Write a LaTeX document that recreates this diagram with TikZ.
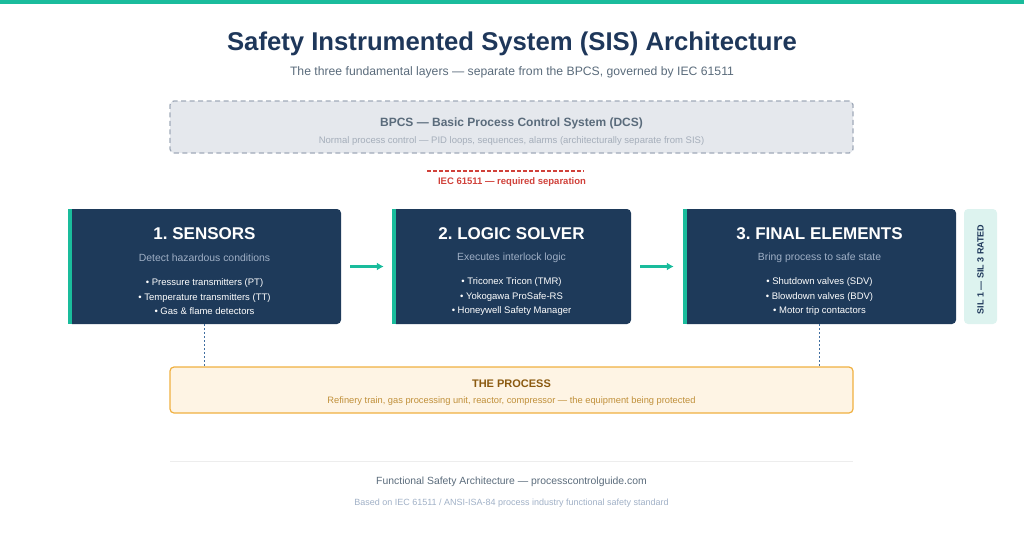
\documentclass[tikz,border=0pt]{standalone}
\usepackage{fontspec}
\setmainfont{Liberation Sans}
\usetikzlibrary{arrows.meta}
\frenchspacing
\definecolor{myTeal}{RGB}{26, 188, 156}
\definecolor{myNavy}{RGB}{30, 58, 90}
\definecolor{myTitle}{RGB}{30, 55, 90}
\definecolor{myGrey}{RGB}{90, 107, 123}
\definecolor{myLight}{RGB}{165, 174, 186}
\definecolor{myBpcs}{RGB}{229, 232, 237}
\definecolor{myBpcsLine}{RGB}{160, 170, 185}
\definecolor{myRed}{RGB}{208, 65, 58}
\definecolor{mySub}{RGB}{160, 176, 198}
\definecolor{mySil}{RGB}{221, 243, 239}
\definecolor{myProc}{RGB}{254, 244, 228}
\definecolor{myOrange}{RGB}{240, 176, 64}
\definecolor{myBrown}{RGB}{139, 90, 16}
\definecolor{myTan}{RGB}{192, 144, 58}
\definecolor{myDots}{RGB}{64, 110, 160}

\tikzset{
  layer/.style={fill=myNavy, rounded corners=4, minimum height=115, inner sep=0},
  layertitle/.style={white, font=\fontsize{17}{20}\selectfont\bfseries},
  layersub/.style={mySub, font=\fontsize{10.4}{13}\selectfont},
  bullets/.style={white, font=\fontsize{9.5}{14.5}\selectfont, align=center},
  flow/.style={myTeal, line width=2.4, -{Latex[length=7,width=8]}},
  tap/.style={myDots, line width=1.5, dash pattern=on 2 off 2},
}

\begin{document}
\begin{tikzpicture}[x=1pt, y=-1pt]
  \useasboundingbox (0,0) rectangle (1024,538);
  \fill[myTeal] (0,0) rectangle (1024,4);
  \node[myTitle, font=\fontsize{25.7}{30}\selectfont\bfseries] (title) at (512,43.5) {Safety Instrumented System (SIS) Architecture};
  \node[myGrey, font=\fontsize{12.2}{15}\selectfont] (subtitle) at (512,72.5) {The three fundamental layers — separate from the BPCS, governed by IEC 61511};

  % BPCS
  \node[fill=myBpcs, draw=myBpcsLine, line width=1.3, dash pattern=on 5 off 3.5, rounded corners=4, minimum width=683, minimum height=52] (bpcs) at (511.5,127) {};
  \node[myGrey, font=\fontsize{12}{15}\selectfont\bfseries] at (511.5,123) {BPCS — Basic Process Control System (DCS)};
  \node[myLight, font=\fontsize{9.5}{12}\selectfont] at (511.5,141) {Normal process control — PID loops, sequences, alarms (architecturally separate from SIS)};

  % separation
  \coordinate (sepL) at (427,171);
  \coordinate (sepR) at (584,171);
  \draw[myRed, line width=1.4, dash pattern=on 3.5 off 2.5] (sepL) -- (sepR);
  \node[myRed, font=\fontsize{9.5}{12}\selectfont\bfseries] (sep) at (512,182) {IEC 61511 — required separation};

  % the three layers
  \node[layer, minimum width=273] (sensors) at (204.5,266.5) {};
  \node[layer, minimum width=239] (logic) at (511.5,266.5) {};
  \node[layer, minimum width=273] (final) at (819.5,266.5) {};
  \foreach \n in {sensors, logic, final}
    \fill[myTeal] (\n.north west) rectangle ([xshift=4]\n.south west);

  \node[layertitle] at (204.5,234) {1. SENSORS};
  \node[layersub] at (204.5,258) {Detect hazardous conditions};
  \node[bullets] at (204.5,297) {• Pressure transmitters (PT)\\• Temperature transmitters (TT)\\• Gas \& flame detectors};

  \node[layertitle] at (511.5,234) {2. LOGIC SOLVER};
  \node[layersub] at (511.5,258) {Executes interlock logic};
  \node[bullets] at (511.5,297) {• Triconex Tricon (TMR)\\• Yokogawa ProSafe-RS\\• Honeywell Safety Manager};

  \node[layertitle] at (819.5,234) {3. FINAL ELEMENTS};
  \node[layersub] at (819.5,258) {Bring process to safe state};
  \node[bullets] at (819.5,297) {• Shutdown valves (SDV)\\• Blowdown valves (BDV)\\• Motor trip contactors};

  \draw[flow] ([xshift=9]sensors.east) -- ([xshift=-8]logic.west);
  \draw[flow] ([xshift=9]logic.east) -- ([xshift=-9]final.west);

  % SIL rating
  \node[fill=mySil, rounded corners=4, minimum width=33, minimum height=115, inner sep=0] (sil) at (980.5,266.5) {};
  \node[myTitle, rotate=90, font=\fontsize{9}{11}\selectfont\bfseries] at ([yshift=-3]sil.center) {SIL 1 — SIL 3 RATED};

  % process
  \node[fill=myProc, draw=myOrange, line width=1.2, rounded corners=4, minimum width=683, minimum height=46] (process) at (511.5,390) {};
  \node[myBrown, font=\fontsize{11}{13}\selectfont\bfseries] at (511.5,384) {THE PROCESS};
  \node[myTan, font=\fontsize{9.3}{11}\selectfont] at (511.5,401) {Refinery train, gas processing unit, reactor, compressor — the equipment being protected};
  \draw[tap] (sensors.south) -- (sensors.south |- process.north);
  \draw[tap] (final.south) -- (final.south |- process.north);

  % footer
  \coordinate (footL) at (170,461);
  \coordinate (footR) at (853,461);
  \draw[black!7, line width=1] (footL) -- (footR);
  \node[myGrey, font=\fontsize{10.4}{13}\selectfont] at (511.5,482) {Functional Safety Architecture — processcontrolguide.com};
  \node[mySub, font=\fontsize{9}{10}\selectfont] at (511.5,503) {Based on IEC 61511 / ANSI-ISA-84 process industry functional safety standard};
\end{tikzpicture}
\end{document}
